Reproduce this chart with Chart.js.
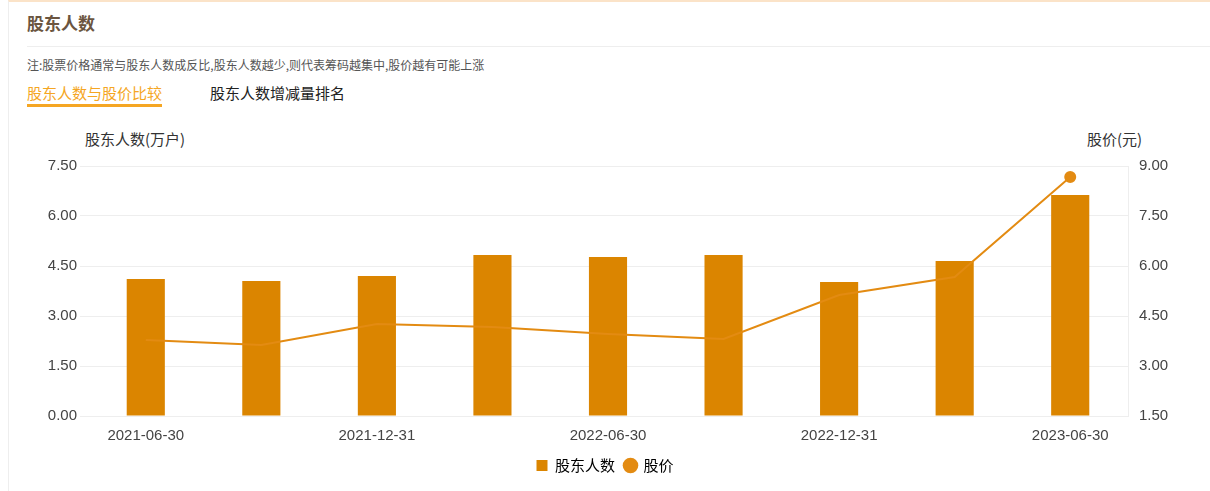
<!DOCTYPE html>
<html>
<head>
<meta charset="utf-8">
<script src="https://cdn.jsdelivr.net/npm/chart.js@4/dist/chart.umd.min.js"></script>
<style>
  body { margin: 0; background: #fff; font-family: "Noto Sans CJK SC", sans-serif; }
  .box { position: absolute; left: 8px; top: 0; width: 1202px; height: 491px; border-top: 2px solid #fbe3c8; border-left: 1px solid #eee; }
  .t { position: absolute; white-space: nowrap; }
</style>
</head>
<body>
<div class="box"></div>
<div class="t" style="left:27px;top:10px;font-size:17px;font-weight:bold;color:#6b5540">股东人数</div>
<div style="position:absolute;left:27px;top:46px;width:1183px;border-top:1px solid #eee"></div>
<div class="t" style="left:27px;top:56px;font-size:12px;color:#555">注:股票价格通常与股东人数成反比,股东人数越少,则代表筹码越集中,股价越有可能上涨</div>
<div class="t" style="left:27px;top:82px;font-size:15px;color:#f5a623;border-bottom:3px solid #f5a623;padding-bottom:1px">股东人数与股价比较</div>
<div class="t" style="left:210px;top:82px;font-size:15px;color:#222">股东人数增减量排名</div>
<div class="t" style="left:85px;top:128px;font-size:15px;color:#333">股东人数(万户)</div>
<div class="t" style="left:1087px;top:128px;font-size:15px;color:#333">股价(元)</div>
<div style="position:absolute;left:10px;top:120px;width:1190px;height:371px">
  <canvas id="c"></canvas>
</div>
<script>
const dates = ["2021-06-30", "2021-09-30", "2021-12-31", "2022-03-31", "2022-06-30", "2022-09-30", "2022-12-31", "2023-03-31", "2023-06-30"];
const holders = [4.11, 4.05, 4.20, 4.83, 4.77, 4.83, 4.02, 4.65, 6.63];
const prices = [3.78, 3.63, 4.26, 4.17, 3.96, 3.81, 5.13, 5.67, 8.67];
const leftTicks = [0, 1.5, 3, 4.5, 6, 7.5];
const rightTicks = [1.5, 3, 4.5, 6, 7.5, 9];

const orange = "#db8500";
new Chart(document.getElementById("c"), {
  data: {
    labels: dates,
    datasets: [
      { type: "line", label: "股价", data: prices, yAxisID: "y1", borderColor: "#e38b12", backgroundColor: "#e38b12", borderWidth: 2,
        pointRadius: prices.map((v, i) => i === prices.length - 1 ? 5 : 0), pointStyle: "circle", tension: 0, order: 0 },
      { type: "bar", label: "股东人数", data: holders, yAxisID: "y", backgroundColor: orange, barPercentage: 0.66, categoryPercentage: 0.5, order: 1 }
    ]
  },
  options: {
    responsive: true, maintainAspectRatio: false, animation: false,
    layout: { padding: { top: 46, bottom: 8 } },
    plugins: {
      tooltip: { enabled: false },
      legend: {
        position: "bottom", reverse: true,
        labels: { usePointStyle: true, boxWidth: 11, boxHeight: 11, font: { size: 15, family: "Noto Sans CJK SC" }, color: "#1f3a5a", padding: 10,
          generateLabels: (chart) => chart.data.datasets.map((d, i) => ({
            text: d.label, fillStyle: d.backgroundColor, strokeStyle: d.backgroundColor, lineWidth: 0,
            pointStyle: d.type === "bar" ? "rect" : "circle", datasetIndex: i
          }))
        }
      }
    },
    scales: {
      x: {
        grid: { display: false }, border: { color: "#eee" },
        ticks: { color: "#444", font: { size: 15 }, maxRotation: 0, autoSkip: false,
          callback: (v, i) => i % 2 === 0 ? dates[i] : "" }
      },
      y: {
        position: "left", min: 0, max: 7.5,
        afterBuildTicks: (s) => { s.ticks = leftTicks.map(v => ({ value: v })); },
        afterFit: (s) => { s.width = 78; },
        grid: { color: "#eee" }, border: { display: false },
        ticks: { color: "#444", font: { size: 15 }, callback: (v) => v.toFixed(2) }
      },
      y1: {
        position: "right", min: 1.5, max: 9,
        afterBuildTicks: (s) => { s.ticks = rightTicks.map(v => ({ value: v })); },
        afterFit: (s) => { s.width = 72; },
        grid: { display: false }, border: { color: "#eee" },
        ticks: { color: "#444", font: { size: 15 }, callback: (v) => v.toFixed(2) }
      }
    }
  }
});
</script>
</body>
</html>
